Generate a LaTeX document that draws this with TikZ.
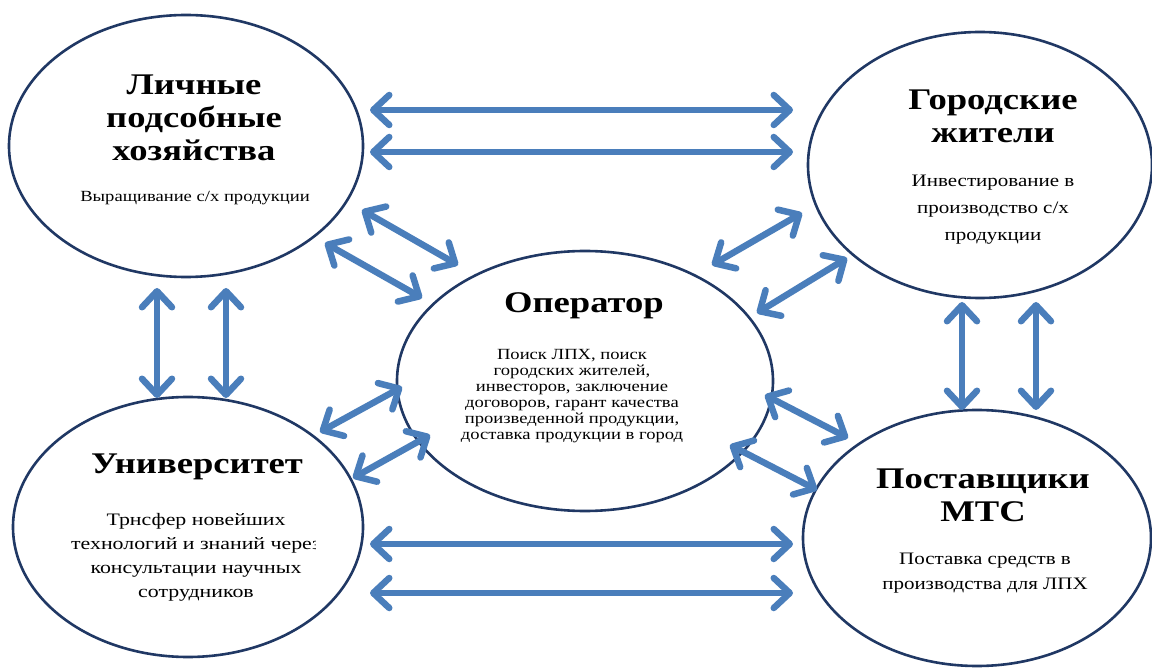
\documentclass[tikz,border=0pt]{standalone}
\usepackage{fontspec}
\setmainfont{Liberation Serif}
\usetikzlibrary{shapes.geometric,arrows.meta}
\definecolor{arrowblue}{RGB}{74,126,187}
\definecolor{navy}{RGB}{32,56,100}
\tikzset{
  oval/.style={ellipse, draw=navy, line width=2.6pt, fill=white, inner sep=0pt},
  ttl/.style={font=\fontsize{30}{33}\selectfont\bfseries, align=center, xscale=1.22, transform shape, inner sep=0pt},
  txt/.style={font=\fontsize{16}{25}\selectfont, align=center, xscale=1.2, transform shape, inner sep=0pt},
  biarrow/.style={line width=6.5pt, draw=arrowblue,
    {Straight Barb[length=16pt,width=30pt,round]}-{Straight Barb[length=16pt,width=30pt,round]}}
}
\begin{document}
\begin{tikzpicture}[x=1pt,y=-1pt]
\useasboundingbox (0,0) rectangle (1152,671);
\fill[white] (0,0) rectangle (1152,671);
% ellipses
\node[oval, minimum width=354pt, minimum height=262pt] (lph) at (186,146) {};
\node[oval, minimum width=344pt, minimum height=266pt] (gor) at (980,165) {};
\node[oval, minimum width=376pt, minimum height=260pt] (op) at (585,381) {};
\node[oval, minimum width=350pt, minimum height=260pt] (uni) at (188,527) {};
\node[oval, minimum width=348pt, minimum height=256pt] (post) at (977,538) {};
% texts
\node[ttl] (lphT) at (194,118) {Личные\\подсобные\\хозяйства};
\node[txt, font=\fontsize{15.5}{18}\selectfont] (lphB) at (195,198) {Выращивание с/х продукции};
\node[ttl] (gorT) at (993,116) {Городские\\жители};
\node[txt, font=\fontsize{17.5}{27}\selectfont] (gorB) at (993,210) {Инвестирование в\\производство с/х\\продукции};
\node[ttl] (opT) at (584,306) {Оператор};
\node[txt, font=\fontsize{15.5}{16}\selectfont] (opB) at (572,396) {Поиск ЛПХ, поиск\\городских жителей,\\инвесторов, заключение\\договоров, гарант качества\\произведенной продукции,\\доставка продукции в город};
\node[ttl] (uniT) at (197,467) {Университет};
\begin{scope}
\clip (20,500) rectangle (315,620);
\node[txt, font=\fontsize{17.5}{24}\selectfont, xscale=1.04] (uniB) at (196,557) {Трнсфер новейших\\технологий и знаний через\\консультации научных\\сотрудников};
\end{scope}
\node[ttl] (postT) at (983,495) {Поставщики\\МТС};
\node[txt, font=\fontsize{17.5}{25}\selectfont] (postB) at (985,573) {Поставка средств в\\производства для ЛПХ};
% arrow endpoints
\coordinate (h1a) at (370,110); \coordinate (h1b) at (793,110);
\coordinate (h2a) at (370,152); \coordinate (h2b) at (793,152);
\coordinate (h3a) at (370,544); \coordinate (h3b) at (793,544);
\coordinate (h4a) at (370,593); \coordinate (h4b) at (793,593);
\coordinate (v1a) at (157,288); \coordinate (v1b) at (157,398);
\coordinate (v2a) at (226,288); \coordinate (v2b) at (226,398);
\coordinate (v3a) at (962,302); \coordinate (v3b) at (962,410);
\coordinate (v4a) at (1036,302); \coordinate (v4b) at (1036,410);
\coordinate (d1a) at (362,210); \coordinate (d1b) at (458,265);
\coordinate (d2a) at (325,243); \coordinate (d2b) at (422,298);
\coordinate (d3a) at (712,265); \coordinate (d3b) at (802,213);
\coordinate (d4a) at (757,313); \coordinate (d4b) at (847,258);
\coordinate (d5a) at (320,432); \coordinate (d5b) at (402,387);
\coordinate (d6a) at (353,478); \coordinate (d6b) at (430,435);
\coordinate (d7a) at (765,395); \coordinate (d7b) at (848,438);
\coordinate (d8a) at (730,445); \coordinate (d8b) at (817,490);
\foreach \a in {h1,h2,h3,h4,v1,v2,v3,v4,d1,d2,d3,d4,d5,d6,d7,d8}{
  \draw[biarrow] (\a a) -- (\a b);
}
\end{tikzpicture}
\end{document}
